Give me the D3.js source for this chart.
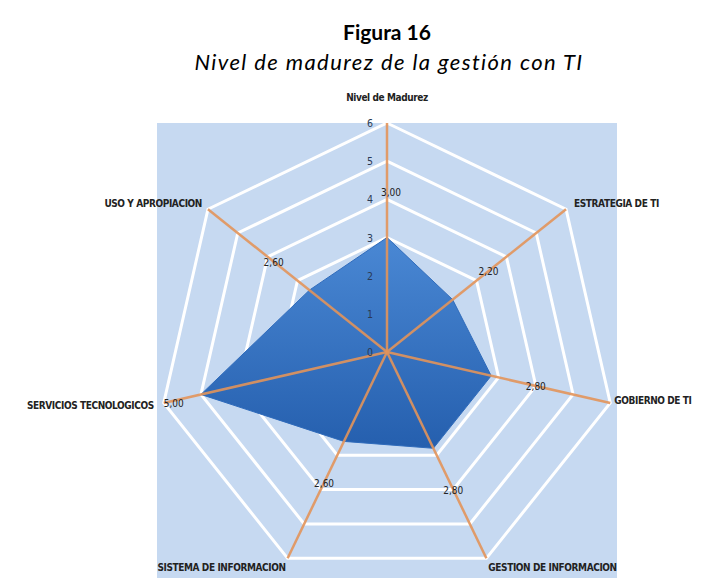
<!DOCTYPE html>
<html>
<head>
<meta charset="utf-8">
<script src="https://cdn.jsdelivr.net/npm/d3@7"></script>
<style>
  body { margin: 0; background: #fff; }
  svg { display: block; }
</style>
</head>
<body>
<svg id="chart"></svg>
<script>
// chart data
const axes = ['Nivel de Madurez', 'ESTRATEGIA DE TI', 'GOBIERNO DE TI', 'GESTION DE INFORMACION',
  'SISTEMA DE INFORMACION', 'SERVICIOS TECNOLOGICOS', 'USO Y APROPIACION'];
const values = [3.0, 2.2, 2.8, 2.8, 2.6, 5.0, 2.6];
const ticks = [0, 1, 2, 3, 4, 5, 6];

const width = 721, height = 582;
const cx = 387, cy = 352, R = 229;

const svg = d3.select('#chart').attr('width', width).attr('height', height);

const r = d3.scaleLinear().domain([0, 6]).range([0, R]);
const angle = d3.scaleLinear().domain([0, axes.length]).range([0, 2 * Math.PI]);
const pt = (i, v) => [cx + r(v) * Math.sin(angle(i)), cy - r(v) * Math.cos(angle(i))];

// title
svg.append('text')
  .attr('x', 387).attr('y', 40)
  .attr('text-anchor', 'middle')
  .style('font-family', 'Lato, sans-serif')
  .style('font-weight', 'bold')
  .style('font-size', '21px')
  .text('Figura 16');

svg.append('text')
  .attr('x', 389).attr('y', 70)
  .attr('text-anchor', 'middle')
  .style('font-family', 'Lato, sans-serif')
  .style('font-style', 'italic')
  .style('font-size', '22px')
  .style('letter-spacing', '1.4px')
  .text('Nivel de madurez de la gestión con TI');

// plot area background
svg.append('rect')
  .attr('x', 157).attr('y', 123)
  .attr('width', 460).attr('height', 455)
  .attr('fill', '#c6d9f1');

const defs = svg.append('defs');
const grad = defs.append('linearGradient')
  .attr('id', 'fillGrad')
  .attr('x1', 0).attr('y1', 0).attr('x2', 0).attr('y2', 1);
grad.append('stop').attr('offset', '0%').attr('stop-color', '#4a88d4');
grad.append('stop').attr('offset', '100%').attr('stop-color', '#255fae');

// grid rings
const ring = d3.line();
ticks.filter(t => t > 0).forEach(t => {
  svg.append('path')
    .attr('d', ring(axes.map((a, i) => pt(i, t))) + 'Z')
    .attr('fill', 'none')
    .attr('stroke', '#ffffff')
    .attr('stroke-width', 3);
});

// data polygon
svg.append('path')
  .attr('d', ring(values.map((v, i) => pt(i, v))) + 'Z')
  .attr('fill', 'url(#fillGrad)')
  .attr('stroke', '#2f6bbb')
  .attr('stroke-width', 1);

// spokes
axes.forEach((a, i) => {
  const [x, y] = pt(i, 6);
  svg.append('line')
    .attr('x1', cx).attr('y1', cy)
    .attr('x2', x).attr('y2', y)
    .attr('stroke', '#e2945a')
    .attr('stroke-width', 2.5)
    .attr('stroke-opacity', 0.9);
});

// tick labels on the first axis
svg.selectAll('.tick')
  .data(ticks)
  .enter()
  .append('text')
  .attr('x', cx - 17)
  .attr('y', d => cy - r(d) + 4)
  .attr('text-anchor', 'middle')
  .style('font-family', 'DejaVu Sans Condensed, sans-serif')
  .style('font-size', '10.5px')
  .style('fill', '#2b3a55')
  .text(d => d);

// axis names
const labelPos = [
  { dx: 0, dy: -22, anchor: 'middle' },
  { dx: 8, dy: -2, anchor: 'start' },
  { dx: 4, dy: 1, anchor: 'start' },
  { dx: 2, dy: 13, anchor: 'start' },
  { dx: -2, dy: 13, anchor: 'end' },
  { dx: -10, dy: 6, anchor: 'end' },
  { dx: -6, dy: -2, anchor: 'end' }
];
axes.forEach((a, i) => {
  const [x, y] = pt(i, 6);
  svg.append('text')
    .attr('x', x + labelPos[i].dx)
    .attr('y', y + labelPos[i].dy)
    .attr('text-anchor', labelPos[i].anchor)
    .style('font-family', 'DejaVu Sans Condensed, sans-serif')
    .style('font-size', '10px')
    .style('font-weight', 'bold')
    .style('letter-spacing', '-0.4px')
    .style('fill', '#222')
    .text(a);
});

// value labels, pushed outward along each axis
values.forEach((v, i) => {
  const [x, y] = pt(i, Math.min(v + 1.2, 6));
  svg.append('text')
    .attr('x', x + (i === 0 ? 4 : 0))
    .attr('y', y + 4)
    .attr('text-anchor', i === 5 ? 'start' : 'middle')
    .style('font-family', 'DejaVu Sans Condensed, sans-serif')
    .style('font-size', '10px')
    .style('fill', '#222')
    .text(d3.format('.2f')(v).replace('.', ','));
});
</script>
</body>
</html>
